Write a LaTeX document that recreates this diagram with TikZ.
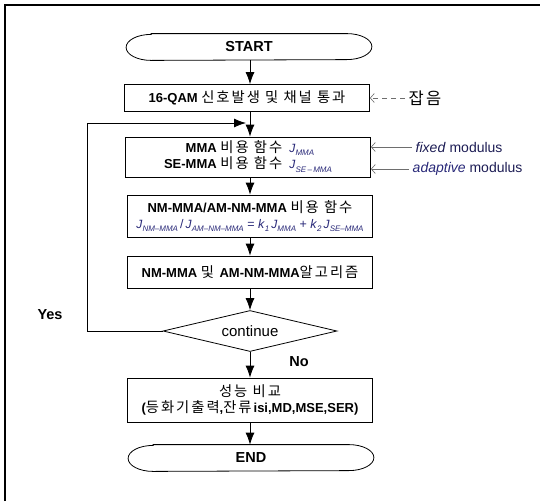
\documentclass[tikz,border=0pt]{standalone}
\usepackage{fontspec}
\setmainfont{Liberation Sans}
\newfontfamily\kr[Scale=1.1,LetterSpace=14]{Noto Sans CJK KR}
\usetikzlibrary{shapes.geometric,arrows.meta}
\definecolor{navy}{RGB}{40,40,120}
\definecolor{sidegray}{RGB}{110,110,110}
\newcommand{\ko}[1]{{\kr #1}}
\newcommand{\lowsub}[1]{\raisebox{-0.5ex}{\footnotesize\textit{#1}}}
\newcommand{\cost}[1]{{\large\textit{J}}\lowsub{#1}}

\begin{document}
\begin{tikzpicture}[x=1pt,y=1pt,line width=0.8pt,
 box/.style={draw,rectangle,minimum width=245pt,inner sep=2pt,align=center,
  font=\fontsize{13}{16}\selectfont},
 term/.style={minimum width=245pt,minimum height=26pt,inner sep=0pt,
  font=\bfseries\fontsize{14.5}{16}\selectfont},
 test/.style={draw,diamond,aspect=4,inner sep=0pt,minimum width=174pt,
  minimum height=41pt,font=\fontsize{15}{17}\selectfont},
 flow/.style={-{Latex[length=12pt,width=9pt]}},
 side/.style={-{Straight Barb[length=4pt,width=9pt]},sidegray,line width=0.6pt},
 lab/.style={font=\bfseries\fontsize{14.5}{16}\selectfont},
 note/.style={anchor=west,text=navy!70!black,font=\fontsize{14}{16}\selectfont}]

\useasboundingbox (0,0) rectangle (540,-501);
\draw[line width=1.6pt] (5,-501) -- (5,-5) -- (540,-5);

\node[term] (start) at (249,-47) {START};
\node[box,minimum height=27pt] (qam) at (247,-98)
 {\textbf{16-QAM} \ko{신호발생 및 채널 통과}};
\node[box,minimum height=40pt] (mma) at (248,-157)
 {\begin{tabular}{@{}r@{\ \ }l@{}}
  \textbf{MMA} \ko{비용 함수}\quad & \textcolor{navy}{\cost{MMA}}\\
  \textbf{SE-MMA} \ko{비용 함수} & \textcolor{navy}{\cost{SE\,--\,MMA}}
 \end{tabular}};
\node[box,minimum height=42pt] (cost) at (250,-216)
 {\textbf{NM-MMA/AM-NM-MMA} \ko{비용 함수}\\
  \fontsize{12.5}{14}\selectfont\color{navy}\cost{NM--MMA}\,/\,\cost{AM--NM--MMA}
  = \textit{k}\lowsub{1}\,\cost{MMA} + \textit{k}\lowsub{2}\,\cost{SE--MMA}};
\node[box,minimum height=32pt] (algo) at (250,-272)
 {\textbf{NM-MMA} \ko{및} \textbf{AM-NM-MMA}\ko{알고리즘}};
\node[test] (cont) at (250,-331) {continue};
\node[box,minimum height=44pt] (perf) at (250,-400)
 {\ko{성능 비교}\\ \textbf{(}\ko{등화기출력}\textbf{,}\ko{잔류}\textbf{isi,MD,MSE,SER)}};
\node[term] (fin) at (251,-458) {END};

\foreach \t in {start,fin} {
 \draw ([xshift=25pt]\t.north west) -- ([xshift=-25pt]\t.north east)
  arc[start angle=90,end angle=-90,x radius=25pt,y radius=13pt]
  -- ([xshift=25pt]\t.south west)
  arc[start angle=270,end angle=90,x radius=25pt,y radius=13pt] -- cycle;
}

\draw[flow] (start.south -| cont) -- (qam.north -| cont);
\draw[flow] (qam.south -| cont) -- (mma.north -| cont);
\draw[flow] (mma.south -| cont) -- (cost);
\draw[flow] (cost) -- (algo);
\draw[flow] (algo) -- (cont);
\draw[flow] (cont) -- (perf);
\draw[flow] (perf) -- (fin.north -| perf);

\coordinate (back) at (87,-123);
\coordinate (merge) at (246,-123);
\draw[flow] (cont.west) -| (back) -- (merge);
\node[lab] (yes) at (50,-315) {Yes};
\node[lab] (no) at (299,-362) {No};

\node[anchor=west,font=\fontsize{15}{17}\selectfont] (noise) at (405,-98) {\ko{잡음}};
\draw[side,dashed,dash pattern=on 5pt off 4pt] (noise.west) -- (qam.east);
\node[note] (fixed) at (412,-147) {\textit{fixed} modulus};
\draw[side] (fixed.west) -- (fixed.west -| mma.east);
\node[note] (adapt) at (409,-169) {\textcolor{navy}{\textit{adaptive}} modulus};
\draw[side] (adapt.west) -- (adapt.west -| mma.east);
\end{tikzpicture}
\end{document}
